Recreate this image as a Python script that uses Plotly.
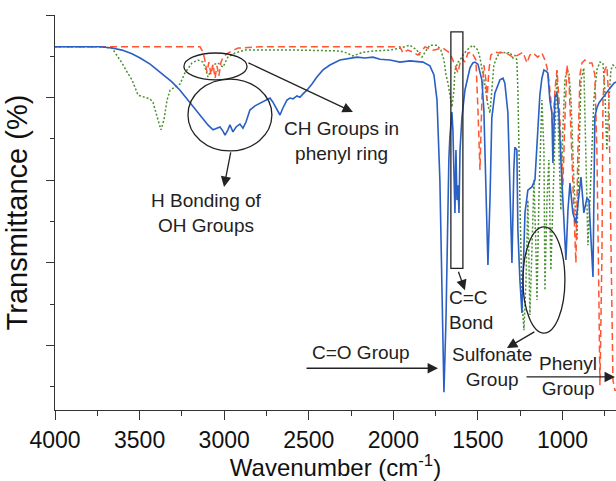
import plotly.graph_objects as go

# ---- spectra: wavenumber (cm-1) and transmittance (%) ----
blue_wn = [4000, 3852, 3734, 3663, 3604, 3545, 3497, 3438, 3379, 3309, 3261, 3214, 3173, 3132,
           3096, 3066, 3043, 3025, 3007, 2995, 2978, 2966, 2948, 2930, 2907, 2889, 2871, 2848,
           2818, 2788, 2759, 2729, 2712, 2694, 2670, 2653, 2629, 2611, 2593, 2570, 2552, 2534,
           2511, 2481, 2452, 2416, 2375, 2316, 2257, 2215, 2168, 2121, 2079, 2020, 1961, 1902,
           1825, 1784, 1760, 1742, 1725, 1713, 1701, 1689, 1683, 1672, 1666, 1654, 1648, 1642,
           1636, 1630, 1624, 1618, 1612, 1606, 1595, 1577, 1559, 1547, 1530, 1518, 1500, 1477,
           1465, 1453, 1441, 1429, 1418, 1400, 1388, 1370, 1352, 1341, 1323, 1311, 1299, 1288,
           1282, 1270, 1264, 1252, 1240, 1222, 1205, 1181, 1163, 1146, 1134, 1122, 1110, 1098,
           1087, 1075, 1063, 1057, 1045, 1033, 1021, 1010, 998, 980, 968, 956, 939, 921, 903,
           891, 874, 856, 844, 832, 820, 809, 797, 785, 761, 744, 720, 696, 684]
blue_t = [92.3, 92.3, 92.3, 92.0, 91.5, 90.6, 89.6, 88.1, 86.2, 83.8, 81.8, 79.4, 77.5, 75.3,
          73.4, 72.2, 72.6, 72.9, 71.9, 70.9, 72.2, 73.4, 71.7, 72.9, 73.6, 72.6, 74.1, 77.0,
          78.0, 78.7, 79.4, 79.9, 78.9, 77.5, 75.8, 77.5, 79.4, 79.9, 79.7, 80.4, 80.1, 80.9,
          81.8, 83.3, 85.0, 86.7, 87.9, 89.1, 89.6, 89.8, 89.6, 89.8, 89.3, 89.1, 88.6, 88.9,
          88.6, 87.7, 85.5, 79.4, 60.1, 31.0, 8.7, 26.2, 42.4, 64.9, 70.5, 76.5, 72.2, 60.1,
          52.1, 67.3, 55.2, 58.8, 52.1, 67.3, 75.1, 81.8, 85.5, 87.2, 88.4, 88.6, 88.1, 84.3,
          77.0, 60.1, 39.5, 55.2, 75.1, 81.1, 82.6, 84.3, 84.7, 83.5, 76.3, 60.1, 40.0, 62.5,
          68.0, 67.3, 47.9, 35.8, 27.9, 52.1, 57.6, 58.4, 60.1, 72.2, 80.6, 84.7, 86.7, 86.4,
          86.0, 79.4, 76.3, 64.2, 80.1, 81.1, 75.8, 64.9, 55.2, 40.7, 52.8, 59.3, 52.1, 49.6, 56.4,
          60.8, 52.1, 55.7, 55.2, 45.5, 36.6, 75.3, 77.5, 78.7, 80.1, 81.1, 82.3, 83.5, 83.8]

green_wn = [4000, 3734, 3663, 3634, 3604, 3574, 3545, 3509, 3468, 3439, 3421, 3397, 3374, 3356,
            3338, 3320, 3291, 3261, 3232, 3190, 3155, 3125, 3108, 3096, 3078, 3066, 3037, 3007,
            2978, 2936, 2877, 2788, 2552, 2316, 2274, 2239, 2209, 2180, 2121, 2020, 1961, 1902,
            1878, 1861, 1843, 1831, 1813, 1784, 1742, 1719, 1701, 1689, 1677, 1666, 1654, 1642,
            1636, 1618, 1606, 1589, 1565, 1530, 1500, 1488, 1477, 1459, 1441, 1429, 1418, 1406,
            1388, 1370, 1329, 1311, 1293, 1282, 1270, 1264, 1252, 1240, 1228, 1216, 1205, 1193,
            1181, 1169, 1157, 1151, 1140, 1128, 1122, 1110, 1104, 1092, 1081, 1069, 1057, 1045,
            1033, 1021, 1010, 998, 986, 974, 962, 950, 933, 915, 903, 891, 874, 862, 850, 838,
            826, 815, 797, 779, 761, 750, 738, 726, 714, 702, 684]
green_t = [92.3, 92.3, 92.0, 90.3, 88.4, 86.2, 84.3, 80.6, 80.1, 79.7, 78.9, 75.3, 72.2, 74.6,
           79.4, 81.8, 82.6, 83.3, 86.0, 88.4, 89.1, 88.6, 86.7, 85.0, 86.7, 87.9, 88.4, 87.4,
           89.8, 90.8, 91.5, 91.5, 91.5, 91.3, 90.8, 90.1, 90.6, 91.0, 91.3, 91.5, 92.0, 92.7,
           92.0, 91.5, 90.3, 89.8, 91.0, 92.7, 92.7, 91.5, 89.1, 85.5, 83.5, 80.6, 77.7, 81.8,
           86.7, 88.6, 89.1, 90.3, 91.5, 92.7, 91.5, 89.6, 87.4, 83.1, 78.2, 76.3, 81.8, 87.9,
           89.8, 91.0, 90.8, 91.0, 89.6, 90.3, 89.1, 81.8, 55.2, 31.0, 23.7, 35.8, 55.2, 27.4,
           43.1, 60.1, 43.1, 31.0, 55.2, 74.6, 79.4, 67.3, 33.4, 55.2, 64.9, 38.3, 55.2, 74.6,
           86.7, 67.3, 52.8, 72.2, 84.3, 86.7, 86.0, 79.4, 60.1, 45.5, 67.3, 84.3, 87.2, 67.3,
           44.3, 55.2, 69.7, 79.4, 86.7, 88.6, 88.4, 81.8, 67.3, 79.4, 86.7, 87.9, 87.2]

red_wn = [4000, 3202, 3143, 3125, 3114, 3102, 3090, 3078, 3066, 3054, 3043, 3031, 3019, 3007,
          2978, 2918, 2788, 2552, 1961, 1943, 1914, 1884, 1855, 1813, 1766, 1707, 1666, 1636,
          1618, 1606, 1595, 1577, 1559, 1536, 1512, 1500, 1488, 1477, 1465, 1453, 1447, 1435,
          1424, 1400, 1370, 1341, 1311, 1293, 1264, 1234, 1210, 1193, 1175, 1146, 1122, 1104,
          1092, 1081, 1069, 1057, 1045, 1033, 1021, 1010, 998, 986, 974, 962, 950, 933, 921,
          909, 897, 885, 868, 850, 826, 809, 797, 785, 779, 767, 761, 750, 738, 726, 714, 702,
          690, 684]
red_t = [92.3, 92.3, 92.3, 91.0, 89.1, 86.2, 88.6, 85.5, 88.1, 84.7, 87.7, 85.3, 88.6, 89.8,
         90.8, 92.0, 92.3, 92.3, 92.3, 90.8, 91.5, 91.0, 90.3, 92.3, 91.5, 92.0, 90.8, 87.9,
         86.0, 88.4, 89.6, 88.6, 90.8, 91.0, 89.1, 77.0, 62.5, 79.4, 87.9, 84.3, 79.4, 86.7,
         90.3, 91.0, 90.8, 91.0, 90.3, 89.8, 90.3, 91.0, 88.4, 90.3, 90.8, 89.8, 90.8, 89.1,
         87.4, 84.3, 79.4, 72.2, 81.8, 86.7, 79.4, 67.3, 58.8, 74.6, 87.9, 84.3, 72.2, 55.2, 40.0,
         67.3, 85.5, 88.4, 89.1, 88.4, 88.4, 85.5, 67.3, 31.0, 10.4, 42.4, 79.4, 86.7, 87.7,
         79.4, 42.4, 11.6, 9.2, 9.2]

INK = "#222222"
FONT = "Liberation Sans, Arial, sans-serif"
TXT = dict(family=FONT, size=19, color=INK)

fig = go.Figure()
fig.add_trace(go.Scatter(x=green_wn, y=green_t, mode="lines",
                         line=dict(color="#4a9030", width=1.5, dash="2px,2px")))
fig.add_trace(go.Scatter(x=red_wn, y=red_t, mode="lines",
                         line=dict(color="#ff5533", width=1.5, dash="7px,4px")))
fig.add_trace(go.Scatter(x=blue_wn, y=blue_t, mode="lines",
                         line=dict(color="#2a5fc4", width=1.6)))

# outlines around band regions
shape_line = dict(color=INK, width=1.3)
fig.add_shape(type="circle", xref="x", yref="y", x0=3238, x1=2865, y0=84.3, y1=90.8, line=shape_line)
fig.add_shape(type="circle", xref="x", yref="y", x0=3214, x1=2718, y0=67.1, y1=84.5, line=shape_line)
fig.add_shape(type="rect", xref="x", yref="y", x0=1660, x1=1589, y0=38.7, y1=95.9, line=shape_line)
fig.add_shape(type="circle", xref="x", yref="y", x0=1234, x1=986, y0=23.0, y1=48.7, line=shape_line)

# arrows (head at x/y, tail offset in pixels)
arrows = [
    (2239, 76.5, -106, -50),
    (3001, 58.4, 7, -36),
    (1577, 33.4, -7, -20),
    (1736, 14.5, -133, 0),
    (1329, 19.4, 29, -17),
    (690, 12.4, -90, 0),
]
for hx, hy, ax, ay in arrows:
    fig.add_annotation(x=hx, y=hy, ax=ax, ay=ay, text="", showarrow=True,
                       arrowhead=2, arrowsize=1.6, arrowwidth=1.3, arrowcolor=INK)

labels = [
    (2304, 69.5, "CH Groups in<br>phenyl ring", "center"),
    (3102, 52.1, "H Bonding of<br>OH Groups", "center"),
    (1683, 28.6, "C=C<br>Bond", "left"),
    (2192, 18.4, "C=O Group", "center"),
    (1417, 14.8, "Sulfonate<br>Group", "center"),
    (968, 12.6, "Phenyl<br>Group", "center"),
]
for lx, ly, txt, anchor in labels:
    fig.add_annotation(x=lx, y=ly, text=txt, showarrow=False, font=TXT,
                       xanchor=anchor, yanchor="middle", align=anchor)

axis_common = dict(showline=True, linecolor="#333333", linewidth=1.3, ticks="outside",
                   tickcolor="#333333", showgrid=False, zeroline=False, mirror=False)

fig.update_xaxes(range=[4000, 684], tick0=4000, dtick=500, ticklen=9, tickwidth=1.3,
                 minor=dict(dtick=250, ticklen=5, tickcolor="#333333", ticks="outside"),
                 tickfont=dict(family=FONT, size=23, color="#111111"),
                 title=dict(text="Wavenumber (cm<sup>-1</sup>)", standoff=5,
                            font=dict(family=FONT, size=24, color="#111111")),
                 **axis_common)
fig.update_yaxes(range=[4.4, 100], tick0=0, dtick=20, ticklen=8, tickwidth=1.3,
                 showticklabels=False,
                 minor=dict(dtick=10, ticklen=4, tickcolor="#333333", ticks="outside"),
                 title=dict(text="Transmittance (%)", standoff=9,
                            font=dict(family=FONT, size=29, color="#111111")),
                 **axis_common)

fig.update_layout(width=616, height=481, margin=dict(l=55, r=0, t=15, b=71, autoexpand=False),
                  paper_bgcolor="white", plot_bgcolor="white", showlegend=False)

fig.write_html("out.html")
